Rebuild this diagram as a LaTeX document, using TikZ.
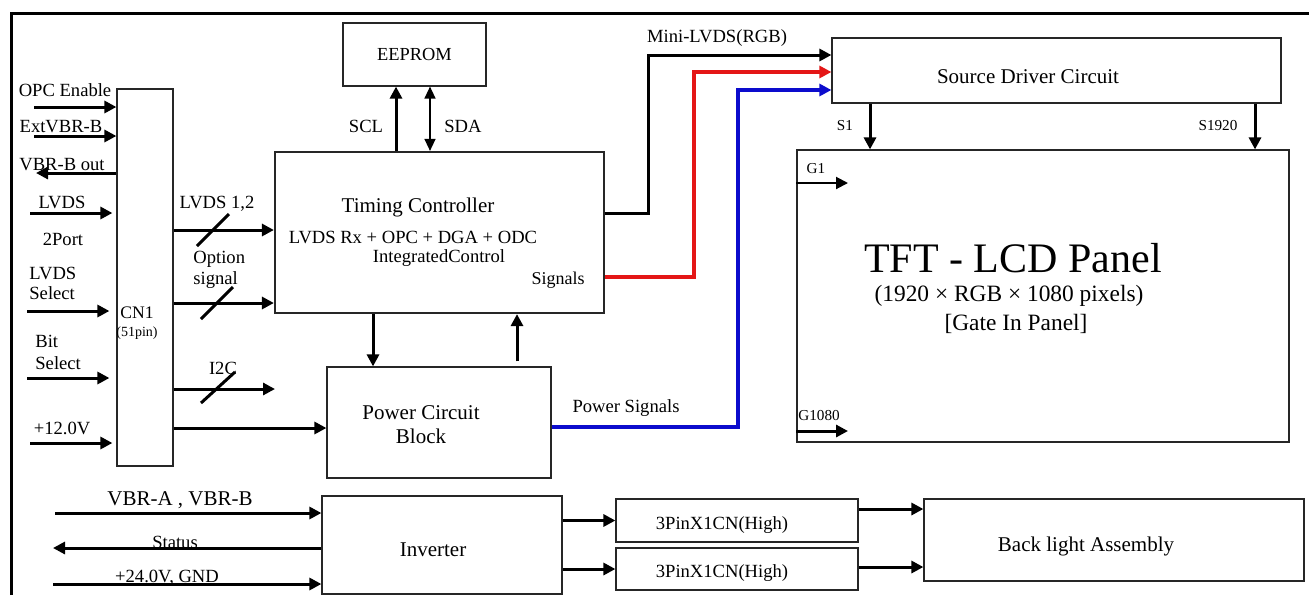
\documentclass[tikz,border=0pt]{standalone}
\usepackage{fontspec}
\setmainfont{Liberation Serif}
\usepackage{tikz}
\usetikzlibrary{arrows.meta}
\definecolor{SigRed}{RGB}{228,22,22}
\definecolor{SigBlue}{RGB}{12,12,205}
\tikzset{
  blk/.style={rectangle, draw=black!85, line width=0.6pt, inner sep=0pt},
  txt/.style={inner sep=0pt, align=center, font=\fontsize{9.3}{10.5}\selectfont},
  bigtxt/.style={inner sep=0pt, align=center, font=\fontsize{10.5}{12}\selectfont},
  tinytxt/.style={inner sep=0pt, font=\fontsize{7.6}{9}\selectfont},
  arrow/.style={-{Triangle[length=6pt,width=6pt]}, line width=1.5pt},
  dblarrow/.style={{Triangle[length=6pt,width=5.5pt]}-{Triangle[length=6pt,width=5.5pt]}, line width=0.7pt},
  slashmark/.style={line width=1.5pt}
}

\begin{document}
\begin{tikzpicture}[x=0.5pt, y=-0.5pt]
  \useasboundingbox (0,0) rectangle (1309,595);
  \draw[line width=1.5pt] (11,595) -- (11,13) -- (1309,13);

  % boxes
  \node[blk, minimum width=28pt, minimum height=188.5pt] (cn) at (145,277.5) {};
  \node[blk, line width=1.1pt, minimum width=164.5pt, minimum height=80.5pt] (tcon) at (439.5,232.5) {};
  \node[blk, minimum width=71.5pt, minimum height=31.5pt, font=\fontsize{9.2}{11}\selectfont] (eeprom) at (414.5,54.5) {EEPROM};
  \node[blk, minimum width=112pt, minimum height=55.5pt] (pwr) at (439,422.5) {};
  \node[blk, minimum width=120pt, minimum height=49pt] (inv) at (442,545) {};
  \node[blk, minimum width=121pt, minimum height=21.5pt] (pinA) at (737,520.5) {};
  \node[blk, minimum width=121pt, minimum height=21pt] (pinB) at (737,569) {};
  \node[blk, minimum width=190pt, minimum height=41pt] (blight) at (1114,540) {};
  \node[blk, minimum width=224.5pt, minimum height=32.5pt] (src) at (1056.5,70.5) {};
  \node[blk, minimum width=246pt, minimum height=146pt] (panel) at (1043,296) {};

  % texts
  \node[txt] (lopc) at (65,90) {OPC Enable};
  \node[txt] (lext) at (61,127) {ExtVBR-B};
  \node[txt] (lvbr) at (62,165) {VBR-B out};
  \node[txt] (llvds) at (62,202) {LVDS};
  \node[txt] (lport) at (63,239) {2Port};
  \node[txt, anchor=west, align=left, font=\fontsize{9.3}{10}\selectfont] (lsel) at (29,283) {LVDS\\Select};
  \node[txt, anchor=west, align=left, font=\fontsize{9.3}{11}\selectfont] (lbit) at (35,352) {Bit\\Select};
  \node[txt] (lvcc) at (62,428) {+12.0V};
  \node[txt, font=\fontsize{8.8}{10}\selectfont] (lcn) at (137,313) {CN1};
  \node[tinytxt, font=\fontsize{7}{8}\selectfont] (lpin) at (137,333) {(51pin)};
  \node[txt] (lbus) at (217,204) {LVDS 1,2};
  \node[txt, anchor=west, align=left] (lopt) at (193,270) {Option\\signal};
  \node[txt] (lict) at (223,368) {I2C};
  \node[txt] (lscl) at (366,126) {SCL};
  \node[txt] (lsda) at (463,126) {SDA};
  \node[bigtxt] (ltc) at (418,207) {Timing Controller};
  \node[txt] (lrx) at (413,237) {LVDS Rx + OPC + DGA + ODC};
  \node[txt] (lint) at (439,258) {IntegratedControl};
  \node[txt, font=\fontsize{9}{10}\selectfont] (lsig) at (558,280) {Signals};
  \node[bigtxt] (lpwr) at (421,425) {Power Circuit\\Block};
  \node[txt] (lpsig) at (626,408) {Power Signals};
  \node[txt] (lmini) at (717,38) {Mini-LVDS(RGB)};
  \node[bigtxt] (lsrc) at (1028,77) {Source Driver Circuit};
  \node[tinytxt] (lsone) at (845,126) {S1};
  \node[tinytxt] (lsend) at (1218,126) {S1920};
  \node[tinytxt] (lgone) at (816,169) {G1};
  \node[tinytxt] (lgend) at (819,416) {G1080};
  \node[inner sep=0pt, font=\fontsize{21}{24}\selectfont] (ltft) at (1013,258) {TFT - LCD Panel};
  \node[inner sep=0pt, font=\fontsize{11.7}{14}\selectfont] (lres) at (1009,296) {(1920 × RGB × 1080 pixels)};
  \node[inner sep=0pt, font=\fontsize{11.7}{14}\selectfont] (lgip) at (1016,324) {[Gate In Panel]};
  \node[bigtxt] (lvbrab) at (180,500) {VBR-A , VBR-B};
  \node[txt] (lstat) at (175,542) {Status};
  \node[txt] (lvin) at (167,578) {+24.0V, GND};
  \node[bigtxt] (linv) at (433,550) {Inverter};
  \node[txt] (lpina) at (722,525) {3PinX1CN(High)};
  \node[txt] (lpinb) at (722,573) {3PinX1CN(High)};
  \node[bigtxt] (lbl) at (1086,546) {Back light Assembly};

  % CN1 inputs
  \coordinate (opcin) at (34,107);
  \coordinate (extin) at (34,136);
  \coordinate (vbrout) at (36,173);
  \coordinate (lvdsin) at (30,213);
  \coordinate (selin) at (27,311);
  \coordinate (bitin) at (27,378);
  \coordinate (vccin) at (30,443);
  \draw[arrow] (opcin) -- (opcin -| cn.west);
  \draw[arrow] (extin) -- (extin -| cn.west);
  \draw[arrow] (vbrout -| cn.west) -- (vbrout);
  \draw[arrow, shorten >=2pt] (lvdsin) -- (lvdsin -| cn.west);
  \draw[arrow, shorten >=3.5pt] (selin) -- (selin -| cn.west);
  \draw[arrow, shorten >=3.5pt] (bitin) -- (bitin -| cn.west);
  \draw[arrow, shorten >=2pt] (vccin) -- (vccin -| cn.west);

  % CN1 outputs
  \coordinate (lvdsbus) at (213,230);
  \coordinate (optbus) at (217,303);
  \coordinate (ictend) at (275,389);
  \coordinate (vccbus) at (0,428);
  \draw[arrow] (cn.east |- lvdsbus) -- (tcon.west |- lvdsbus);
  \draw[arrow] (cn.east |- optbus) -- (tcon.west |- optbus);
  \draw[arrow] (ictend -| cn.east) -- (ictend);
  \draw[arrow] (cn.east |- vccbus) -- (pwr.west |- vccbus);
  \draw[slashmark] (lvdsbus) ++(-16,16) -- ++(32,-32);
  \draw[slashmark] (optbus) ++(-16,16) -- ++(32,-32);
  \draw[slashmark] (218,388) ++(-17,15) -- ++(34,-31);

  % controller links
  \coordinate (sclx) at (396,0);
  \coordinate (sdax) at (430,0);
  \coordinate (dnx) at (373,0);
  \coordinate (upx) at (517,0);
  \draw[arrow] (tcon.north -| sclx) -- (eeprom.south -| sclx);
  \draw[dblarrow] (tcon.north -| sdax) -- (eeprom.south -| sdax);
  \draw[arrow] (tcon.south -| dnx) -- (pwr.north -| dnx);
  \draw[arrow] (pwr.north -| upx) ++(0,-5) -- (tcon.south -| upx);

  % source driver feeds
  \coordinate (blkout) at (0,213);
  \coordinate (blkturn) at (648,55);
  \coordinate (redout) at (0,277);
  \coordinate (redturn) at (694,72);
  \coordinate (blueout) at (0,427);
  \coordinate (blueturn) at (738,90);
  \draw[arrow] (tcon.east |- blkout) -| (blkturn) -- (src.west |- blkturn);
  \draw[arrow, SigRed, line width=2pt] (tcon.east |- redout) -| (redturn) -- (src.west |- redturn);
  \draw[arrow, SigBlue, line width=2pt] (pwr.east |- blueout) -| (blueturn) -- (src.west |- blueturn);

  % panel lines
  \coordinate (sonex) at (870,0);
  \coordinate (sendx) at (1255,0);
  \coordinate (gone) at (848,183);
  \coordinate (gend) at (848,431);
  \draw[arrow] (src.south -| sonex) -- (panel.north -| sonex);
  \draw[arrow] (src.south -| sendx) -- (panel.north -| sendx);
  \draw[arrow, line width=1pt] (panel.west |- gone) -- (gone);
  \draw[arrow] (panel.west |- gend) -- (gend);

  % inverter
  \coordinate (vbrin) at (55,513);
  \coordinate (statout) at (53,548);
  \coordinate (vinin) at (53,584);
  \coordinate (blA) at (0,509);
  \coordinate (blB) at (0,567);
  \draw[arrow] (vbrin) -- (inv.west |- vbrin);
  \draw[arrow] (inv.west |- statout) -- (statout);
  \draw[arrow] (vinin) -- (inv.west |- vinin);
  \draw[arrow] (inv.east |- pinA.west) -- (pinA.west);
  \draw[arrow] (inv.east |- pinB.west) -- (pinB.west);
  \draw[arrow] (pinA.east |- blA) -- (blight.west |- blA);
  \draw[arrow] (pinB.east |- blB) -- (blight.west |- blB);
\end{tikzpicture}
\end{document}
